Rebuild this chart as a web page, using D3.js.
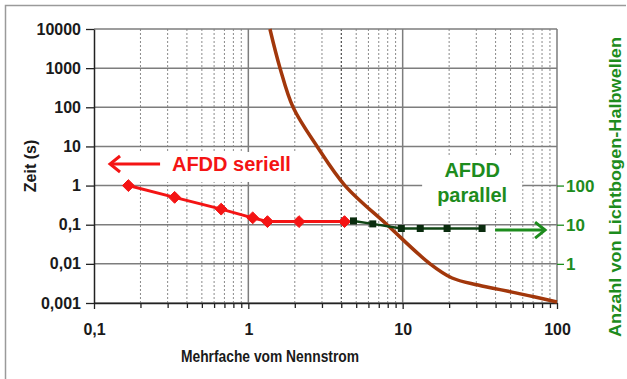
<!DOCTYPE html>
<html>
<head>
<meta charset="utf-8">
<script src="https://cdn.jsdelivr.net/npm/d3@7"></script>
<style>
  body { margin: 0; background: #fff; }
  svg text { font-family: "Liberation Sans", Arial, sans-serif; font-weight: bold; }
</style>
</head>
<body>
<script>
// Werte

// Zeit-Achse (links) und Halbwellen-Achse (rechts)
const yTicks = [0.001, 0.01, 0.1, 1, 10, 100, 1000, 10000];
const yRightTicks = [1, 10, 100];
const xTicks = [0.1, 1, 10, 100];
const xMinor = [2, 3, 4, 5, 6, 7, 8, 9];

// AFDD seriell (Zeit in s)
const seriellX = [0.167, 0.333, 0.667, 1.067, 1.33, 2.13, 4.2];
const seriellT = [1, 0.5, 0.25, 0.15, 0.12, 0.12, 0.12];

// AFDD parallel (Anzahl Halbwellen, rechte Achse)
const parallelX = [4.8, 6.4, 9.8, 13, 19.4, 32.7];
const parallelN = [12.5, 10.5, 8, 8, 8, 8];

// Kennlinie (braun)
const kennX = [1.38, 1.605, 1.95, 2.79, 4.23, 7.92, 15.05, 20.9, 30.8, 51.2, 72.1, 100];
const kennT = [10000, 1000, 100, 10, 1, 0.1, 0.01, 0.00435, 0.00288, 0.0019, 0.00142, 0.00106];

const red = "#f41414";
const green = "#1d8c1d";
const brown = "#a2370b";

const W = 627, H = 379;
const svg = d3.select("body").append("svg").attr("width", W).attr("height", H);

const x = d3.scaleLog().domain([0.1, 100]).range([94, 557]);
const y = d3.scaleLog().domain([0.001, 10000]).range([303, 29]);
const yR = d3.scaleLog().domain([0.1, 1e6]).range([303, 29]);

const de = d => String(d).replace(".", ",");

// Rahmen
svg.append("path")
  .attr("d", "M5.5," + H + "V5.5H626")
  .attr("fill", "none").attr("stroke", "#9a9a9a").attr("stroke-width", 1.5);

// Gitter
const grid = svg.append("g");
const minorVals = [];
[0.1, 1, 10].forEach(dec => xMinor.forEach(m => minorVals.push(dec * m)));

grid.selectAll(".minor").data(minorVals).enter().append("line")
  .attr("x1", d => x(d)).attr("x2", d => x(d))
  .attr("y1", y(10000)).attr("y2", y(0.001))
  .attr("stroke", d => Math.abs(d - 4) < 1e-9 ? "#222" : "#8a8a8a")
  .attr("stroke-width", 1)
  .attr("stroke-dasharray", "2,2");

grid.selectAll(".hmaj").data(yTicks).enter().append("line")
  .attr("x1", x(0.1)).attr("x2", x(100))
  .attr("y1", d => y(d)).attr("y2", d => y(d))
  .attr("stroke", "#7d7d7d").attr("stroke-width", 1.5);

grid.selectAll(".vmaj").data([1, 10, 100]).enter().append("line")
  .attr("x1", d => x(d)).attr("x2", d => x(d))
  .attr("y1", y(10000)).attr("y2", y(0.001))
  .attr("stroke", "#7d7d7d").attr("stroke-width", 1.5);

// weisse Hintergruende der Beschriftungen
const boxes = svg.append("g");

// Achsen
const fontSize = 16;
const axL = svg.append("g").attr("transform", "translate(" + x(0.1) + ",0)")
  .call(d3.axisLeft(y).tickValues(yTicks).tickFormat(de).tickSize(8).tickPadding(5).tickSizeOuter(0));
const axB = svg.append("g").attr("transform", "translate(0," + y(0.001) + ")")
  .call(d3.axisBottom(x).tickValues(xTicks).tickFormat(de).tickSize(6).tickPadding(15).tickSizeOuter(0));
svg.append("g").attr("transform", "translate(0," + y(0.001) + ")")
  .call(d3.axisBottom(x).tickValues(minorVals).tickFormat("").tickSize(5).tickSizeOuter(0))
  .select(".domain").remove();
const axR = svg.append("g").attr("transform", "translate(" + x(100) + ",0)")
  .call(d3.axisRight(yR).tickValues(yRightTicks).tickFormat(d3.format("d")).tickSize(7).tickPadding(2).tickSizeOuter(0));
axR.select(".domain").remove();

svg.selectAll(".tick line").attr("stroke", "#222").attr("stroke-width", 1.3);
axL.select(".domain").attr("stroke", "#222").attr("stroke-width", 1.5);
axB.select(".domain").attr("stroke", "#222").attr("stroke-width", 1.5);
svg.selectAll(".tick text").attr("font-size", fontSize).attr("fill", "#1a1a1a").attr("font-family", null);
axR.selectAll(".tick line").attr("stroke", green);
axR.selectAll(".tick text").attr("fill", green).attr("font-size", 17);

// Achsentitel
svg.append("text")
  .attr("transform", "translate(36," + ((y(10000) + y(0.001)) / 2) + ") rotate(-90)")
  .attr("text-anchor", "middle").attr("font-size", 16).attr("fill", "#1a1a1a")
  .text("Zeit (s)");
svg.append("text")
  .attr("x", 270).attr("y", 362)
  .attr("text-anchor", "middle").attr("font-size", 17).attr("fill", "#1a1a1a")
  .attr("textLength", 178).attr("lengthAdjust", "spacingAndGlyphs")
  .text("Mehrfache vom Nennstrom");
svg.append("text")
  .attr("transform", "translate(621,187) rotate(-90)")
  .attr("text-anchor", "middle").attr("font-size", 17).attr("fill", green)
  .attr("textLength", 300).attr("lengthAdjust", "spacingAndGlyphs")
  .text("Anzahl von Lichtbogen-Halbwellen");

// Kennlinie
const line = d3.line().curve(d3.curveCatmullRom.alpha(0.5));
svg.append("path")
  .attr("d", line(kennX.map((d, i) => [x(d), y(kennT[i])])))
  .attr("fill", "none").attr("stroke", brown).attr("stroke-width", 3.5);

// AFDD seriell
svg.append("path")
  .attr("d", d3.line()(seriellX.map((d, i) => [x(d), y(seriellT[i])])))
  .attr("fill", "none").attr("stroke", red).attr("stroke-width", 3);
svg.selectAll(".dia").data(seriellX).enter().append("path")
  .attr("transform", (d, i) => "translate(" + x(d) + "," + y(seriellT[i]) + ")")
  .attr("d", d3.symbol(d3.symbolDiamond2, 90))
  .attr("fill", red).attr("stroke", red).attr("stroke-width", 1);

// AFDD parallel
svg.append("path")
  .attr("d", d3.line()(parallelX.map((d, i) => [x(d), yR(parallelN[i])])))
  .attr("fill", "none").attr("stroke", "#0f4414").attr("stroke-width", 2.5);
svg.selectAll(".sq").data(parallelX).enter().append("rect")
  .attr("x", d => x(d) - 3.5).attr("y", (d, i) => yR(parallelN[i]) - 3.5)
  .attr("width", 7).attr("height", 7)
  .attr("fill", "#0a2c0e");

// Beschriftungen mit Pfeilen
function arrow(g, x1, x2, yy, col, dir) {
  const tip = dir < 0 ? x1 : x2;
  g.append("line").attr("x1", x1).attr("x2", x2).attr("y1", yy).attr("y2", yy)
    .attr("stroke", col).attr("stroke-width", 3);
  g.append("path")
    .attr("d", "M" + (tip - dir * 10) + "," + (yy - 8) + "L" + tip + "," + yy + "L" + (tip - dir * 10) + "," + (yy + 8))
    .attr("fill", "none").attr("stroke", col).attr("stroke-width", 3).attr("stroke-linejoin", "miter");
}

const gSer = svg.append("g");
arrow(gSer, x(0.127), x(0.268), y(3.56), red, -1);
gSer.append("text").attr("x", x(0.32)).attr("y", y(2.36))
  .attr("font-size", 20).attr("fill", red).text("AFDD seriell");

const gPar = svg.append("g");
gPar.append("text").attr("x", x(28.2)).attr("y", y(1.65))
  .attr("text-anchor", "middle").attr("font-size", 20).attr("fill", green).text("AFDD");
gPar.append("text").attr("x", x(28.2)).attr("y", y(0.38))
  .attr("text-anchor", "middle").attr("font-size", 20).attr("fill", green).text("parallel");

const gArr = svg.append("g");
arrow(gArr, x(39.7), x(83.7), y(0.073), green, 1);

// Hintergrundboxen aus den Textgrenzen
const b1 = gSer.node().getBBox();
boxes.append("rect").attr("x", b1.x - 10).attr("y", b1.y - 1)
  .attr("width", b1.width + 20).attr("height", b1.height + 8).attr("fill", "#fff");
const b2 = gPar.node().getBBox();
boxes.append("rect").attr("x", b2.x - 15).attr("y", b2.y - 3)
  .attr("width", b2.width + 30).attr("height", b2.height + 7).attr("fill", "#fff");
</script>
</body>
</html>
